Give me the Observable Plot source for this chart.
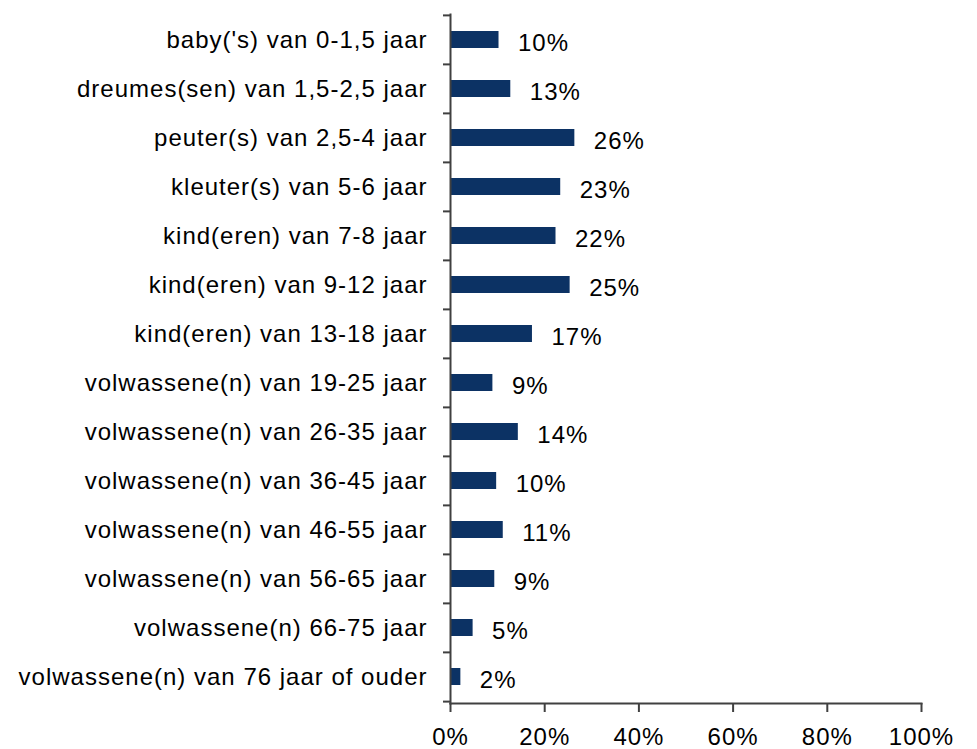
<!DOCTYPE html>
<html>
<head>
<meta charset="utf-8">
<script src="https://cdn.jsdelivr.net/npm/d3@7"></script>
<script src="https://cdn.jsdelivr.net/npm/@observablehq/plot@0.6"></script>
<style>
  html, body { margin: 0; padding: 0; background: #fff; }
  #chart { width: 977px; height: 749px; }
</style>
</head>
<body>
<div id="chart"></div>
<script>
const categories = [
  "baby('s) van 0-1,5 jaar",
  "dreumes(sen) van 1,5-2,5 jaar",
  "peuter(s) van 2,5-4 jaar",
  "kleuter(s) van 5-6 jaar",
  "kind(eren) van 7-8 jaar",
  "kind(eren) van 9-12 jaar",
  "kind(eren) van 13-18 jaar",
  "volwassene(n) van 19-25 jaar",
  "volwassene(n) van 26-35 jaar",
  "volwassene(n) van 36-45 jaar",
  "volwassene(n) van 46-55 jaar",
  "volwassene(n) van 56-65 jaar",
  "volwassene(n) 66-75 jaar",
  "volwassene(n) van 76 jaar of ouder"
];
// bar lengths (labels show rounded values)
const values = [0.103, 0.128, 0.264, 0.234, 0.224, 0.254, 0.174, 0.090, 0.144, 0.098, 0.112, 0.094, 0.048, 0.022];
const labels = ["10%", "13%", "26%", "23%", "22%", "25%", "17%", "9%", "14%", "10%", "11%", "9%", "5%", "2%"];
const xTicks = [0, 0.2, 0.4, 0.6, 0.8, 1.0];

const data = categories.map((c, i) => ({category: c, value: values[i], label: labels[i]}));

const W = 977, H = 749;
const mTop = 14, mBottom = 46, mLeft = 450, mRight = 56;
const step = (H - mTop - mBottom) / categories.length;
const axisColor = "#404040";
const barColor = "#0c3264";

const chart = Plot.plot({
  width: W,
  height: H,
  marginTop: mTop,
  marginBottom: mBottom,
  marginLeft: mLeft,
  marginRight: mRight,
  style: {fontFamily: "Arial, 'Liberation Sans', sans-serif", fontSize: "24px", color: "#000", background: "#fff"},
  x: {domain: [0, 1]},
  y: {domain: categories, paddingInner: 0.65, paddingOuter: 0.325, align: 0.5},
  marks: [
    Plot.barX(data, {x: "value", y: "category", fill: barColor}),
    Plot.text(data, {x: "value", y: "category", text: "label", textAnchor: "start", dx: 19, dy: 3, fontSize: 24, fill: "#000"}),
    // category boundary ticks on the y axis
    Plot.ruleY(categories, {y: d => d, x1: -7 / 471, x2: 0, dy: -step / 2, stroke: axisColor, strokeWidth: 2}),
    Plot.ruleY([categories[categories.length - 1]], {y: d => d, x1: -7 / 471, x2: 0, dy: step / 2, stroke: axisColor, strokeWidth: 2}),
    Plot.frame({anchor: "left", stroke: axisColor, strokeWidth: 2}),
    Plot.frame({anchor: "bottom", stroke: axisColor, strokeWidth: 2}),
    Plot.axisX({ticks: xTicks, tickFormat: d => Math.round(d * 100) + "%", tickSize: 9, tickPadding: 15, stroke: axisColor, strokeWidth: 2, strokeOpacity: 1, fontSize: 24, fill: "#000", label: null}),
    Plot.axisY({tickSize: 0, tickPadding: 23, fontSize: 24, fill: "#000", label: null})
  ]
});

chart.querySelectorAll("text").forEach(t => t.setAttribute("letter-spacing", "1"));
chart.querySelectorAll("[aria-label='x-axis tick'], [aria-label='rule']").forEach(g => {
  g.setAttribute("stroke", axisColor);
  g.setAttribute("stroke-width", "2");
  g.setAttribute("stroke-opacity", "1");
  g.querySelectorAll("path, line").forEach(p => {
    p.setAttribute("stroke", axisColor);
    p.setAttribute("stroke-width", "2");
  });
});
document.getElementById("chart").appendChild(chart);
</script>
</body>
</html>
